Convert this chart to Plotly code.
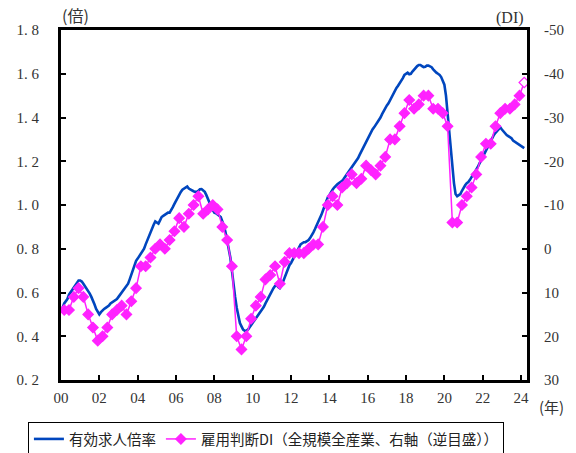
import plotly.graph_objects as go

# ---- data ----
# 有効求人倍率 (monthly, seasonally adjusted), Jan 2000 .. Mar 2024
ratio = [
    0.52, 0.53, 0.55, 0.56, 0.57, 0.59, 0.60, 0.61, 0.62, 0.63, 0.645, 0.655,   # 2000
    0.655, 0.65, 0.64, 0.63, 0.62, 0.61, 0.595, 0.58, 0.565, 0.545, 0.525, 0.51, # 2001
    0.50, 0.51, 0.52, 0.525, 0.53, 0.535, 0.54, 0.55, 0.555, 0.56, 0.565, 0.57,  # 2002
    0.58, 0.59, 0.60, 0.61, 0.62, 0.63, 0.64, 0.66, 0.68, 0.70, 0.725, 0.745,    # 2003
    0.755, 0.765, 0.775, 0.785, 0.80, 0.82, 0.84, 0.86, 0.88, 0.895, 0.91, 0.925, # 2004
    0.92, 0.915, 0.93, 0.945, 0.95, 0.955, 0.96, 0.965, 0.965, 0.975, 0.99, 1.005, # 2005
    1.02, 1.035, 1.05, 1.06, 1.07, 1.075, 1.08, 1.085, 1.075, 1.07, 1.065, 1.063, # 2006
    1.06, 1.06, 1.065, 1.072, 1.073, 1.065, 1.06, 1.045, 1.03, 1.01, 0.99, 0.975, # 2007
    0.965, 0.962, 0.955, 0.95, 0.945, 0.925, 0.905, 0.875, 0.84, 0.81, 0.76, 0.70, # 2008
    0.63, 0.58, 0.53, 0.49, 0.46, 0.445, 0.43, 0.425, 0.425, 0.43, 0.44, 0.45,   # 2009
    0.46, 0.47, 0.48, 0.49, 0.50, 0.51, 0.52, 0.535, 0.55, 0.565, 0.58, 0.595,   # 2010
    0.61, 0.62, 0.63, 0.635, 0.625, 0.62, 0.63, 0.65, 0.67, 0.69, 0.71, 0.725,   # 2011
    0.735, 0.75, 0.765, 0.78, 0.795, 0.81, 0.82, 0.825, 0.83, 0.83, 0.835, 0.84, # 2012
    0.85, 0.86, 0.875, 0.89, 0.905, 0.92, 0.94, 0.955, 0.975, 0.995, 1.015, 1.035, # 2013
    1.045, 1.06, 1.07, 1.08, 1.09, 1.095, 1.10, 1.105, 1.11, 1.12, 1.13, 1.145,  # 2014
    1.15, 1.16, 1.17, 1.18, 1.19, 1.20, 1.215, 1.23, 1.245, 1.26, 1.275, 1.29,   # 2015
    1.30, 1.315, 1.33, 1.345, 1.355, 1.365, 1.375, 1.385, 1.40, 1.415, 1.43, 1.445, # 2016
    1.455, 1.465, 1.48, 1.495, 1.505, 1.52, 1.535, 1.545, 1.555, 1.57, 1.58, 1.595, # 2017
    1.60, 1.605, 1.598, 1.60, 1.61, 1.62, 1.63, 1.635, 1.64, 1.64, 1.635, 1.63,  # 2018
    1.632, 1.637, 1.637, 1.635, 1.63, 1.62, 1.61, 1.605, 1.60, 1.595, 1.585, 1.57, # 2019
    1.55, 1.50, 1.42, 1.32, 1.24, 1.17, 1.10, 1.05, 1.04, 1.045, 1.05, 1.065,    # 2020
    1.08, 1.09, 1.10, 1.105, 1.115, 1.13, 1.14, 1.15, 1.16, 1.175, 1.19, 1.205,  # 2021
    1.22, 1.235, 1.245, 1.26, 1.275, 1.29, 1.305, 1.32, 1.33, 1.34, 1.35, 1.355, # 2022
    1.345, 1.335, 1.325, 1.32, 1.315, 1.31, 1.305, 1.295, 1.29, 1.285, 1.28, 1.275, # 2023
    1.27, 1.265, 1.26,                                                           # 2024
]

# 雇用判断DI (quarterly: Mar, Jun, Sep, Dec), Mar 2000 .. Mar 2024 (last = forecast)
di_months = [3, 6, 9, 12]
di = [
    14, 14, 11, 9,      # 2000
    11, 15, 18, 21,     # 2001
    20, 18, 15, 14,     # 2002
    13, 15, 12, 9,      # 2003
    4, 4, 2, 0,         # 2004
    -1, 0, -2, -4,      # 2005
    -7, -5, -8, -10,    # 2006
    -12, -8, -9, -10,   # 2007
    -9, -5, -2, 4,      # 2008
    20, 23, 20, 16,     # 2009
    13, 11, 7, 6,       # 2010
    4, 8, 3, 1,         # 2011
    1, 1, 1, 0,         # 2012
    -1, -1, -5, -10,    # 2013
    -12, -10, -14, -15, # 2014
    -17, -15, -16, -19, # 2015
    -18, -17, -19, -21, # 2016
    -25, -25, -28, -31, # 2017
    -34, -32, -33, -35, # 2018
    -35, -32, -32, -31, # 2019
    -28, -6, -6, -10,   # 2020
    -12, -14, -17, -21, # 2021
    -24, -24, -28, -31, # 2022
    -32, -32, -33, -35, # 2023
    -38,                # 2024 (forecast)
]

x_tick_vals = list(range(2000, 2025, 2))
x_tick_text = ["00", "02", "04", "06", "08", "10", "12", "14", "16", "18", "20", "22", "24"]
y_tick_vals = [0.2, 0.4, 0.6, 0.8, 1.0, 1.2, 1.4, 1.6, 1.8]
y_tick_text = ["0. 2", "0. 4", "0. 6", "0. 8", "1. 0", "1. 2", "1. 4", "1. 6", "1. 8"]
y2_tick_vals = [-50, -40, -30, -20, -10, 0, 10, 20, 30]
y2_tick_text = ["-50", "-40", "-30", "-20", "-10", "0", "10", "20", "30"]

# ---- positions from data index ----
ratio_x = [2000 + i / 12 for i in range(len(ratio))]
di_x = [2000 + (i // 4) + (di_months[i % 4] - 1) / 12 for i in range(len(di))]

BLUE = "#0046BE"
MAG = "#FF22FF"

fill_colors = [MAG] * (len(di) - 1) + ["white"]

fig = go.Figure()
fig.add_trace(go.Scatter(
    x=ratio_x, y=ratio, mode="lines", name="有効求人倍率",
    line=dict(color=BLUE, width=2.6), yaxis="y",
))
fig.add_trace(go.Scatter(
    x=di_x, y=di, mode="lines+markers",
    name="雇用判断DI（全規模全産業、右軸（逆目盛））",
    line=dict(color=MAG, width=1.5),
    marker=dict(symbol="diamond", size=8, color=fill_colors,
                line=dict(color=MAG, width=1.2)),
    yaxis="y2",
))

tick_font = dict(family="Liberation Serif", size=15, color="#333333")

fig.update_layout(
    width=576, height=453,
    margin=dict(l=61, r=49, t=30, b=73, autoexpand=False),
    paper_bgcolor="white", plot_bgcolor="white",
    showlegend=True,
    legend=dict(
        orientation="h", x=-0.071, xanchor="left", y=-0.12, yanchor="top",
        bordercolor="black", borderwidth=1,
        font=dict(family="Noto Sans CJK JP", size=14.5, color="#222222"),
        itemwidth=30, tracegroupgap=0,
    ),
    xaxis=dict(
        range=[2000, 2024.31], tickvals=x_tick_vals, ticktext=x_tick_text,
        showgrid=False, zeroline=False, automargin=False,
        showline=True, linecolor="black", linewidth=3, mirror=True,
        ticks="inside", ticklen=5, tickwidth=2, tickcolor="black",
        tickfont=tick_font, ticklabelstandoff=2,
    ),
    yaxis=dict(
        range=[0.2, 1.8], tickvals=y_tick_vals, ticktext=y_tick_text,
        showgrid=False, zeroline=False, automargin=False,
        showline=True, linecolor="black", linewidth=3,
        ticks="inside", ticklen=5, tickwidth=2, tickcolor="black",
        tickfont=tick_font, ticklabelstandoff=16,
    ),
    yaxis2=dict(
        range=[30, -50], tickvals=y2_tick_vals, ticktext=y2_tick_text,
        overlaying="y", side="right", automargin=False,
        showgrid=False, zeroline=False,
        showline=True, linecolor="black", linewidth=3,
        ticks="inside", ticklen=5, tickwidth=2, tickcolor="black",
        tickfont=tick_font, ticklabelstandoff=11,
    ),
    annotations=[
        dict(text="(倍)", xref="paper", yref="paper", x=-0.002, y=1.0, xanchor="left",
             yanchor="bottom", showarrow=False, yshift=1,
             font=dict(family="Noto Sans CJK JP", size=16, color="#333333")),
        dict(text="(DI)", xref="paper", yref="paper", x=0.997, y=1.0, xanchor="right",
             yanchor="bottom", showarrow=False, yshift=1,
             font=dict(family="Liberation Serif", size=16, color="#333333")),
        dict(text="(年)", xref="paper", yref="paper", x=1.0, y=0.0, xanchor="left",
             yanchor="top", showarrow=False, xshift=10, yshift=-14,
             font=dict(family="Noto Sans CJK JP", size=15, color="#333333")),
    ],
)

fig.write_html(
    "out.html",
    config={"displayModeBar": False},
    post_script="document.body.style.margin='0px';document.body.style.overflow='hidden';",
)
